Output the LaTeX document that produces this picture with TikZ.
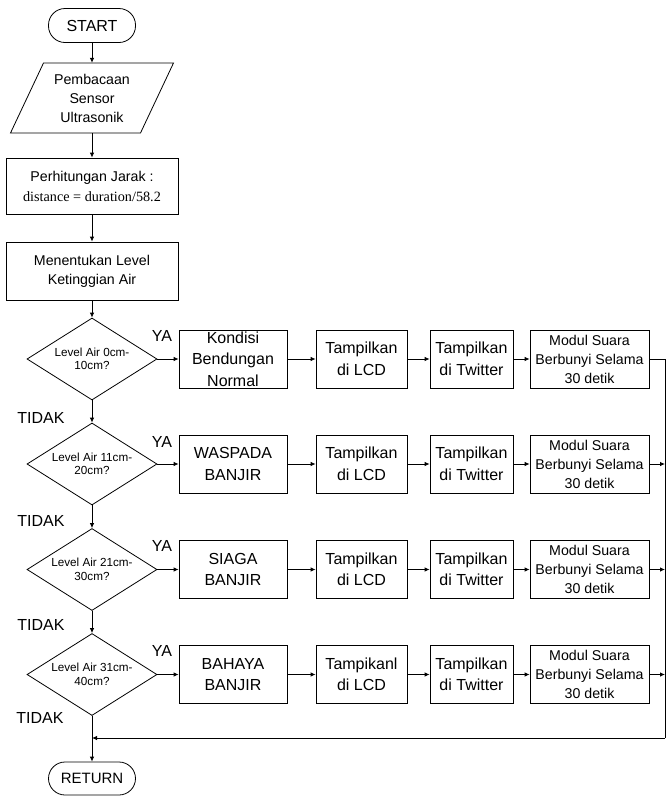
\documentclass[tikz,border=0pt]{standalone}
\usepackage{fontspec}
\setmainfont{Liberation Sans}
\newfontfamily\timesfont{Liberation Serif}
\usetikzlibrary{shapes.geometric,arrows.meta}
\tikzset{
  base/.style={draw, line width=0.8pt, inner sep=0pt, align=center},
  term/.style={base, rectangle, rounded corners=16.5pt, minimum width=87pt, minimum height=34pt, font=\fontsize{16}{19}\selectfont},
  topbox/.style={base, rectangle, minimum width=172pt, font=\fontsize{14.2}{19}\selectfont},
  rowbox/.style={base, rectangle, minimum height=58pt, font=\fontsize{16}{21.5}\selectfont},
  modbox/.style={base, rectangle, minimum width=119pt, minimum height=58pt, font=\fontsize{14.2}{19}\selectfont},
  dec/.style={base, diamond, aspect=1.6, minimum width=130pt, minimum height=82pt, font=\fontsize{11.7}{13.5}\selectfont},
  arr/.style={-{Latex[length=5pt,width=4.5pt]}, line width=0.8pt},
  ln/.style={line width=0.8pt},
  lbl/.style={inner sep=0pt, font=\fontsize{16}{19}\selectfont}
}
\begin{document}
\begin{tikzpicture}[x=1pt,y=-1pt]
\useasboundingbox (0,0) rectangle (672,796);

% left column
\node[term] (start) at (92,25.5) {START};
\draw[ln] (43.5,63) -- (173.5,63) -- (140.5,133) -- (10.5,133) -- cycle;
\node[inner sep=0pt, minimum width=130pt, minimum height=70pt, align=center, font=\fontsize{14.2}{19}\selectfont] (read) at (92,98) {Pembacaan\\Sensor\\Ultrasonik};
\node[topbox, minimum height=56pt] (calc) at (92,186) {Perhitungan Jarak :\\[1pt]{\timesfont distance = duration/58.2}};
\node[topbox, minimum height=58pt] (lvl) at (92,271) {Menentukan Level\\Ketinggian Air};

\node[dec] (d1) at (92,359) {Level Air 0cm-\\10cm?};
\node[dec] (d2) at (92,464) {Level Air 11cm-\\20cm?};
\node[dec] (d3) at (92,569.5) {Level Air 21cm-\\30cm?};
\node[dec] (d4) at (92,674.5) {Level Air 31cm-\\40cm?};

\node[term, minimum height=33pt, font=\fontsize{15}{18}\selectfont] (ret) at (92,778.5) {RETURN};

% rows
\node[rowbox, minimum width=108pt] (k1) at (233,359) {Kondisi\\Bendungan\\Normal};
\node[rowbox, minimum width=91pt] (l1) at (361.5,359) {Tampilkan\\di LCD};
\node[rowbox, minimum width=83pt] (t1) at (471.5,359) {Tampilkan\\di Twitter};
\node[modbox] (m1) at (589.5,359) {Modul Suara\\Berbunyi Selama\\30 detik};

\node[rowbox, minimum width=108pt] (k2) at (233,464) {WASPADA\\BANJIR};
\node[rowbox, minimum width=91pt] (l2) at (361.5,464) {Tampilkan\\di LCD};
\node[rowbox, minimum width=83pt] (t2) at (471.5,464) {Tampilkan\\di Twitter};
\node[modbox] (m2) at (589.5,464) {Modul Suara\\Berbunyi Selama\\30 detik};

\node[rowbox, minimum width=108pt] (k3) at (233,569.5) {SIAGA\\BANJIR};
\node[rowbox, minimum width=91pt] (l3) at (361.5,569.5) {Tampilkan\\di LCD};
\node[rowbox, minimum width=83pt] (t3) at (471.5,569.5) {Tampilkan\\di Twitter};
\node[modbox] (m3) at (589.5,569.5) {Modul Suara\\Berbunyi Selama\\30 detik};

\node[rowbox, minimum width=108pt] (k4) at (233,674.5) {BAHAYA\\BANJIR};
\node[rowbox, minimum width=91pt] (l4) at (361.5,674.5) {Tampikanl\\di LCD};
\node[rowbox, minimum width=83pt] (t4) at (471.5,674.5) {Tampilkan\\di Twitter};
\node[modbox] (m4) at (589.5,674.5) {Modul Suara\\Berbunyi Selama\\30 detik};

% labels
\node[lbl] (ya1) at (162,336) {YA};
\node[lbl] (ya2) at (162,442) {YA};
\node[lbl] (ya3) at (162,546) {YA};
\node[lbl] (ya4) at (162,651) {YA};
\node[lbl] (no1) at (41,418) {TIDAK};
\node[lbl] (no2) at (41,521) {TIDAK};
\node[lbl] (no3) at (41,625) {TIDAK};
\node[lbl] (no4) at (40,718) {TIDAK};

% coordinates for the return path
\coordinate (rt) at (665,359);
\coordinate (rb) at (665,738);
\coordinate (jn) at (92,738);

% connectors: left column
\draw[arr] (start.south) -- (read.north);
\draw[arr] (read.south) -- (calc.north);
\draw[arr] (calc.south) -- (lvl.north);
\draw[arr] (lvl.south) -- (d1.north);
\draw[arr] (d1.south) -- (d2.north);
\draw[arr] (d2.south) -- (d3.north);
\draw[arr] (d3.south) -- (d4.north);
\draw[arr] (d4.south) -- (ret.north);

% rows
\foreach \i in {1,2,3,4}{
  \draw[arr] (d\i.east) -- (k\i.west);
  \draw[arr] (k\i.east) -- (l\i.west);
  \draw[arr] (l\i.east) -- (t\i.west);
  \draw[arr] (t\i.east) -- (m\i.west);
}
\draw[ln] (m1.east) -- (rt) -- (rb);
\draw[arr] (m2.east) -- (m2.east -| rt);
\draw[arr] (m3.east) -- (m3.east -| rt);
\draw[arr] (m4.east) -- (m4.east -| rt);
\draw[arr] (rb) -- (jn);
\end{tikzpicture}
\end{document}
